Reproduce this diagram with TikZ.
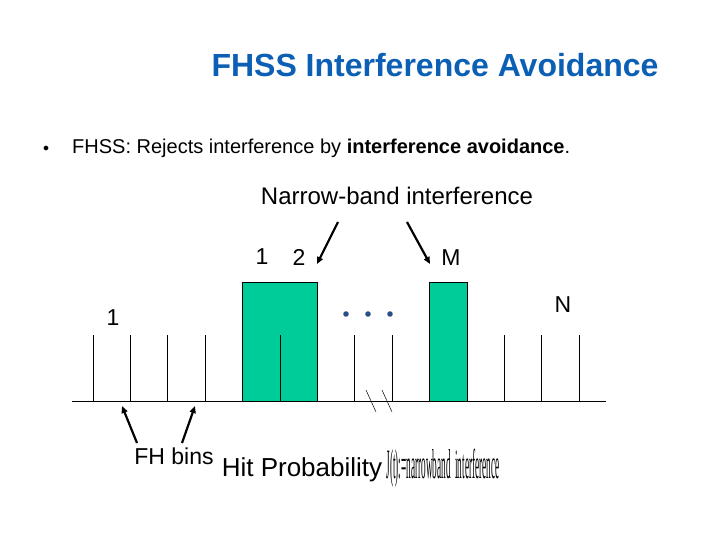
\documentclass[tikz,border=0pt]{standalone}
\usepackage{fontspec}
\setmainfont{Liberation Sans}
\newfontfamily\squeezefont{Liberation Serif}
\usetikzlibrary{arrows.meta,positioning}
\definecolor{figTitle}{HTML}{0B5FB4}
\definecolor{figBin}{HTML}{00CC99}
\definecolor{figDot}{HTML}{2A4F86}
\newcommand{\fsz}[1]{\fontsize{#1}{#1}\selectfont}
\tikzset{
  binline/.style={line width=0.7pt},
  hitbox/.style={fill=figBin,draw=black,line width=0.6pt},
  pointer/.style={line width=2.2pt,-{Triangle[length=7pt,width=6pt]}},
  lbl/.style={inner sep=0pt},
}

\begin{document}
\begin{tikzpicture}[x=1pt,y=-1pt]
  \useasboundingbox[fill=white] (0,0) rectangle (720,540);
  % heading and bullet
  \node[lbl,figTitle] (title) at (435,65) {\fsz{32}\bfseries FHSS Interference Avoidance};
  \node[lbl] (bullet) at (46,149) {\fsz{13}$\bullet$};
  \node[lbl,anchor=west] (rejects) at (72,148) {\fsz{20}FHSS: Rejects interference by \textbf{interference avoidance}.};
  \node[lbl] (narrow) at (397,196) {\fsz{24}Narrow-band interference};
  % bins
  \draw[binline] (72,401) -- (606,401);
  \foreach \k in {0,...,13}{\draw[binline] (93+37.4*\k,401) -- (93+37.4*\k,335);}
  \draw[hitbox] (242.6,401) rectangle (317.4,282);
  \draw[hitbox] (429.6,401) rectangle (467,282);
  \draw[binline] (280,401) -- (280,335);
  \foreach \x in {346,368,390}{\fill[figDot] (\x,314) circle (2.8);}
  \draw[line width=0.5pt] (366,390) -- (376,412);
  \draw[line width=0.5pt] (382,390) -- (392,412);
  % labels
  \node[lbl] (one) at (262,257) {\fsz{23}1};
  \node[lbl] (two) at (299,257) {\fsz{23}2};
  \node[lbl] (bigm) at (451,258) {\fsz{23}M};
  \node[lbl] (bign) at (563,305) {\fsz{23}N};
  \node[lbl] (first) at (113,318) {\fsz{23}1};
  \node[lbl] (fhbins) at (174,456) {\fsz{23}FH bins};
  \node[lbl] (hitprob) at (302,470) {\fsz{26}Hit Probability};
  \node[lbl] (jt) at (443,468) {\scalebox{0.42}[1.9]{\squeezefont\fsz{22}J(t):=narrowband\ \ interference}};
  % pointers
  \coordinate (nbL) at (338,222);
  \coordinate (nbR) at (407,222);
  \coordinate (tipL) at (317,264);
  \coordinate (tipR) at (430,264);
  \coordinate (fhL) at (137,443);
  \coordinate (fhR) at (182,443);
  \coordinate (binL) at (122,406);
  \coordinate (binR) at (195,406);
  \draw[pointer] (nbL) -- (tipL);
  \draw[pointer] (nbR) -- (tipR);
  \draw[pointer] (fhL) -- (binL);
  \draw[pointer] (fhR) -- (binR);
\end{tikzpicture}
\end{document}
